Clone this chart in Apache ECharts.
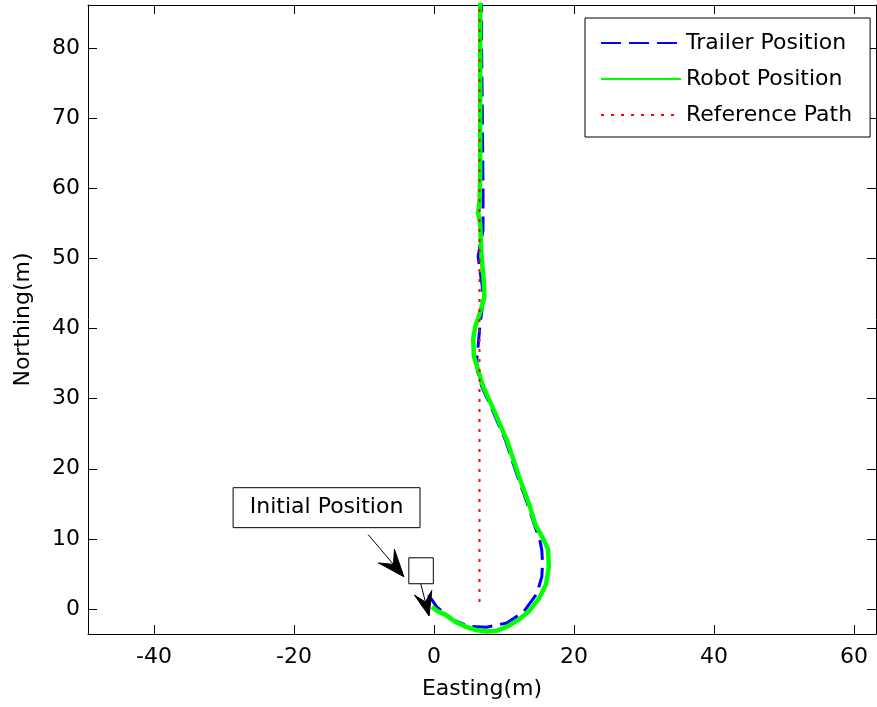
<!DOCTYPE html>
<html><head><meta charset="utf-8">
<script src="https://cdn.jsdelivr.net/npm/echarts@6/dist/echarts.min.js"></script>
<style>html,body{margin:0;padding:0;background:#fff}#c{width:877px;height:707px}</style>
</head><body><div id="c"></div>
<script>
// ---- data ----
const xTicks = [-40, -20, 0, 20, 40, 60];
const yTicks = [0, 10, 20, 30, 40, 50, 60, 70, 80];
const seriesNames = ['Trailer Position', 'Robot Position', 'Reference Path'];

const trailerX = [-0.8, -0.3, 0.4, 1.5, 2.8, 5.1, 7.5, 10.4, 12.8, 14.7, 15.4, 15.5, 15.4, 15.1, 14.3, 13.5, 11.9, 10.2, 8.5, 6.8, 6.2, 6.1, 6.3, 6.6, 6.9, 6.9, 6.6, 6.3, 6.6, 7.0, 7.0, 6.9, 6.8, 6.8];
const trailerY = [2.0, 1.3, 0.3, -0.6, -1.6, -2.5, -2.6, -2.0, -0.4, 2.2, 4.6, 6.5, 8.4, 9.9, 12.1, 14.6, 19.0, 24.1, 28.0, 31.8, 34.0, 35.5, 37.5, 40.8, 43.0, 46.0, 48.0, 50.3, 52.0, 54.0, 60.0, 71.0, 80.0, 90.0];

const robotX = [-0.3, 0.5, 1.6, 3.0, 4.7, 6.0, 7.5, 9.0, 10.5, 12.0, 13.5, 15.0, 16.0, 16.4, 16.3, 15.6, 14.5, 13.7, 12.1, 10.4, 8.7, 7.0, 6.3, 5.7, 5.6, 5.9, 6.5, 7.2, 7.1, 6.9, 6.7, 6.6, 6.3, 6.5, 6.6, 6.6, 6.6, 6.6];
const robotY = [0.3, -0.3, -0.8, -1.8, -2.6, -3.0, -3.2, -3.1, -2.5, -1.6, -0.4, 1.5, 3.5, 6.0, 8.5, 10.0, 12.0, 14.6, 19.0, 24.1, 28.0, 31.8, 34.1, 36.0, 38.5, 40.3, 42.0, 44.5, 47.0, 49.0, 52.0, 55.0, 56.5, 58.0, 62.0, 70.0, 80.0, 90.0];

const refX = [6.5, 6.5];
const refY = [1.0, 90.0];

const annotationText = 'Initial Position';

// ---- layout / styles (not data) ----
const FONT = 'DejaVu Sans';
const FS = 22;
const xMin = -49.43, xMax = 63.14, yMin = -3.57, yMax = 86.16;
const annoBox = [[-28.7, 17.3], [-2.0, 11.6]];
const annoSquare = [[-3.6, 7.3], [-0.1, 3.6]];
const arrow1 = [[-9.4, 10.6], [-4.3, 4.6]];
const arrow2 = [[-1.9, 3.6], [-0.7, -1.0]];

const zip = (a, b) => a.map((v, i) => [v, b[i]]);

const chart = echarts.init(document.getElementById('c'), null, {renderer: 'canvas'});

function mkX(pos, labels) {
  return {
    type: 'value', position: pos, min: xMin, max: xMax,
    axisLine: {show: true, onZero: false, lineStyle: {color: '#000', width: 1}},
    axisTick: {show: true, inside: true, length: 9, customValues: xTicks, lineStyle: {color: '#000'}},
    axisLabel: {show: labels, customValues: xTicks, color: '#000', fontFamily: FONT, fontSize: FS, margin: 12},
    splitLine: {show: false},
    name: labels ? 'Easting(m)' : '', nameLocation: 'middle', nameGap: 44,
    nameTextStyle: {color: '#000', fontFamily: FONT, fontSize: FS}
  };
}
function mkY(pos, labels) {
  return {
    type: 'value', position: pos, min: yMin, max: yMax,
    axisLine: {show: true, onZero: false, lineStyle: {color: '#000', width: 1}},
    axisTick: {show: true, inside: true, length: 9, customValues: yTicks, lineStyle: {color: '#000'}},
    axisLabel: {show: labels, customValues: yTicks, color: '#000', fontFamily: FONT, fontSize: FS, margin: 8},
    splitLine: {show: false},
    name: labels ? 'Northing(m)' : '', nameLocation: 'middle', nameGap: 54,
    nameTextStyle: {color: '#000', fontFamily: FONT, fontSize: FS}
  };
}

chart.setOption({
  animation: false,
  backgroundColor: '#fff',
  grid: {left: 88, top: 5, width: 788, height: 629, containLabel: false},
  xAxis: [mkX('bottom', true), mkX('top', false)],
  yAxis: [mkY('left', true), mkY('right', false)],
  legend: {
    orient: 'vertical', left: 585, top: 18,
    padding: [13, 18, 10, 15],
    backgroundColor: '#fff', borderColor: '#000', borderWidth: 1,
    itemWidth: 80, itemHeight: 24, itemGap: 12,
    itemStyle: {opacity: 0},
    textStyle: {color: '#000', fontFamily: FONT, fontSize: FS, lineHeight: 24},
    data: seriesNames
  },
  series: [
    {name: seriesNames[0], type: 'line', data: zip(trailerX, trailerY), symbol: 'none',
     lineStyle: {color: '#0000ff', width: 3, type: [20, 8]}, z: 2},
    {name: seriesNames[1], type: 'line', data: zip(robotX, robotY), symbol: 'none',
     lineStyle: {color: '#00ff00', width: 4.5}, z: 3},
    {name: seriesNames[2], type: 'line', data: zip(refX, refY), symbol: 'none',
     lineStyle: {color: '#ff0000', width: 2, type: [3, 7]}, z: 4}
  ]
});

function px(p) { return chart.convertToPixel({xAxisIndex: 0, yAxisIndex: 0}, p); }
function arrowHead(from, to, L, W) {
  const a = px(from), b = px(to);
  const dx = b[0] - a[0], dy = b[1] - a[1];
  const d = Math.hypot(dx, dy), ux = dx / d, uy = dy / d, nx = -uy, ny = ux;
  const base = [b[0] - L * ux, b[1] - L * uy];
  const notch = [b[0] - 0.6 * L * ux, b[1] - 0.6 * L * uy];
  return [
    {type: 'line', shape: {x1: a[0], y1: a[1], x2: notch[0], y2: notch[1]}, style: {stroke: '#000', lineWidth: 1}, z: 100},
    {type: 'polygon', shape: {points: [b, [base[0] + W / 2 * nx, base[1] + W / 2 * ny], notch, [base[0] - W / 2 * nx, base[1] - W / 2 * ny]]},
     style: {fill: '#000', stroke: '#000', lineWidth: 1}, z: 101}
  ];
}
const b1 = px(annoBox[0]), b2 = px(annoBox[1]);
const s1 = px(annoSquare[0]), s2 = px(annoSquare[1]);
chart.setOption({
  graphic: [
    {type: 'rect', shape: {x: b1[0], y: b1[1], width: b2[0] - b1[0], height: b2[1] - b1[1]},
     style: {fill: '#fff', stroke: '#000', lineWidth: 1}, z: 100},
    {type: 'text', x: (b1[0] + b2[0]) / 2, y: (b1[1] + b2[1]) / 2,
     style: {text: annotationText, fill: '#000', font: FS + 'px "' + FONT + '"', align: 'center', verticalAlign: 'middle'}, z: 101},
    {type: 'rect', shape: {x: s1[0], y: s1[1], width: s2[0] - s1[0], height: s2[1] - s1[1]},
     style: {fill: '#fff', stroke: '#000', lineWidth: 1}, z: 100},
    ...arrowHead(arrow1[0], arrow1[1], 27, 21),
    ...arrowHead(arrow2[0], arrow2[1], 24, 18)
  ]
});
</script>
</body></html>
